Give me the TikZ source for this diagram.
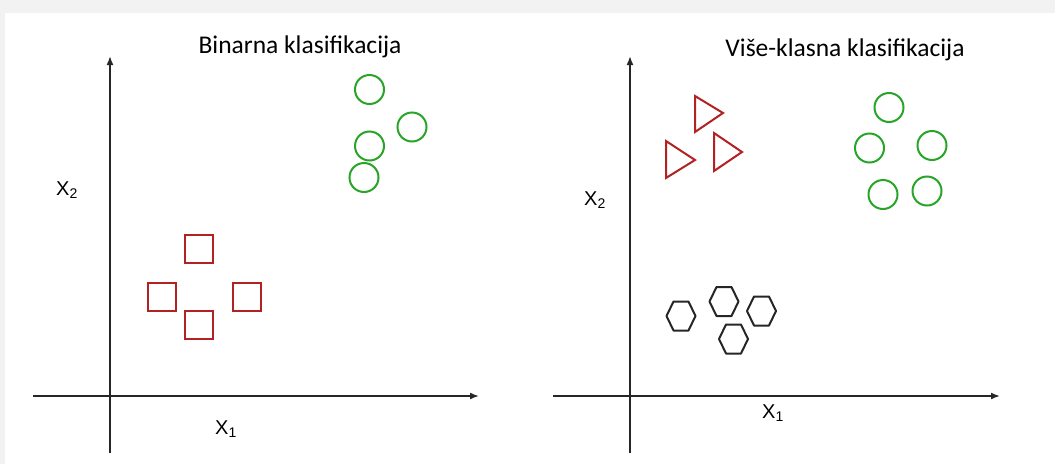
\documentclass[tikz,border=0pt]{standalone}
\usepackage{fontspec}
\setmainfont{Carlito}
\newfontfamily\arialf{Liberation Sans}
\usetikzlibrary{arrows.meta,shapes.geometric}
\definecolor{redc}{RGB}{178,34,34}
\definecolor{greenc}{RGB}{40,165,40}
\definecolor{bandgray}{RGB}{242,242,242}
\tikzset{
  axis/.style={line width=1.7pt, draw=black!85, -{Latex[length=9pt,width=7pt]}},
  sq/.style={draw=redc, line width=2pt, minimum size=28pt, inner sep=0pt, outer sep=0pt},
  circ/.style={circle, draw=greenc, line width=2pt, minimum size=29pt, inner sep=0pt, outer sep=0pt},
  tri/.style={draw=redc, line width=2pt, line join=miter},
  hexs/.style={draw=black!85, line width=2pt, line join=round},
  title/.style={font=\fontsize{25.5}{28}\selectfont, inner sep=0pt, anchor=base},
  lab/.style={font=\arialf\fontsize{20}{22}\selectfont, inner sep=0pt}
}
\begin{document}
\begin{tikzpicture}[x=1pt,y=-1pt]
\useasboundingbox (0,0) rectangle (1055,464);
\fill[bandgray] (0,0) rectangle (1055,464);
\fill[white] (5,13) rectangle (1055,464);

% ---------- left panel ----------
\coordinate (lyb) at (110,453);
\coordinate (lyt) at (110,56);
\coordinate (lxl) at (33,396);
\coordinate (lxr) at (479,396);
\draw[axis] (lyb) -- (lyt);
\draw[axis] (lxl) -- (lxr);
\node[title] (t1) at (300,53) {Binarna klasifikacija};
\node[lab] (lx2) at (67,190) {X\textsubscript{2}};
\node[lab] (lx1) at (226,429) {X\textsubscript{1}};

\node[sq] (s1) at (199,249) {};
\node[sq] (s2) at (162,297) {};
\node[sq] (s3) at (247,297) {};
\node[sq] (s4) at (199,325) {};

\node[circ] (c1) at (369.5,89.5) {};
\node[circ] (c2) at (412,127) {};
\node[circ] (c3) at (369.5,146) {};
\node[circ] (c4) at (364,177.5) {};

% ---------- right panel ----------
\coordinate (ryb) at (630,453);
\coordinate (ryt) at (630,56);
\coordinate (rxl) at (553,396);
\coordinate (rxr) at (1000,396);
\draw[axis] (ryb) -- (ryt);
\draw[axis] (rxl) -- (rxr);
\node[title] (t2) at (845,56) {Više-klasna klasifikacija};
\node[lab] (rx2) at (595,200) {X\textsubscript{2}};
\node[lab] (rx1) at (773,413) {X\textsubscript{1}};

\draw[tri] (695,96) -- (723,113) -- (695,132) -- cycle;
\draw[tri] (666,141) -- (695,160) -- (666,178) -- cycle;
\draw[tri] (714,133) -- (742,152) -- (714,171) -- cycle;

\foreach \hx/\hy in {681/316, 724/301.5, 761.5/311, 733.5/339}{
  \draw[hexs] (\hx,\hy) ++(-14.5,0) -- ++(7,-14.5) -- ++(15,0) -- ++(7,14.5)
    -- ++(-7,14.5) -- ++(-15,0) -- cycle;
}

\node[circ] (d1) at (889,107.5) {};
\node[circ] (d2) at (869.5,148) {};
\node[circ] (d3) at (932,145.5) {};
\node[circ] (d4) at (883,194.5) {};
\node[circ] (d5) at (927,191) {};
\end{tikzpicture}
\end{document}
